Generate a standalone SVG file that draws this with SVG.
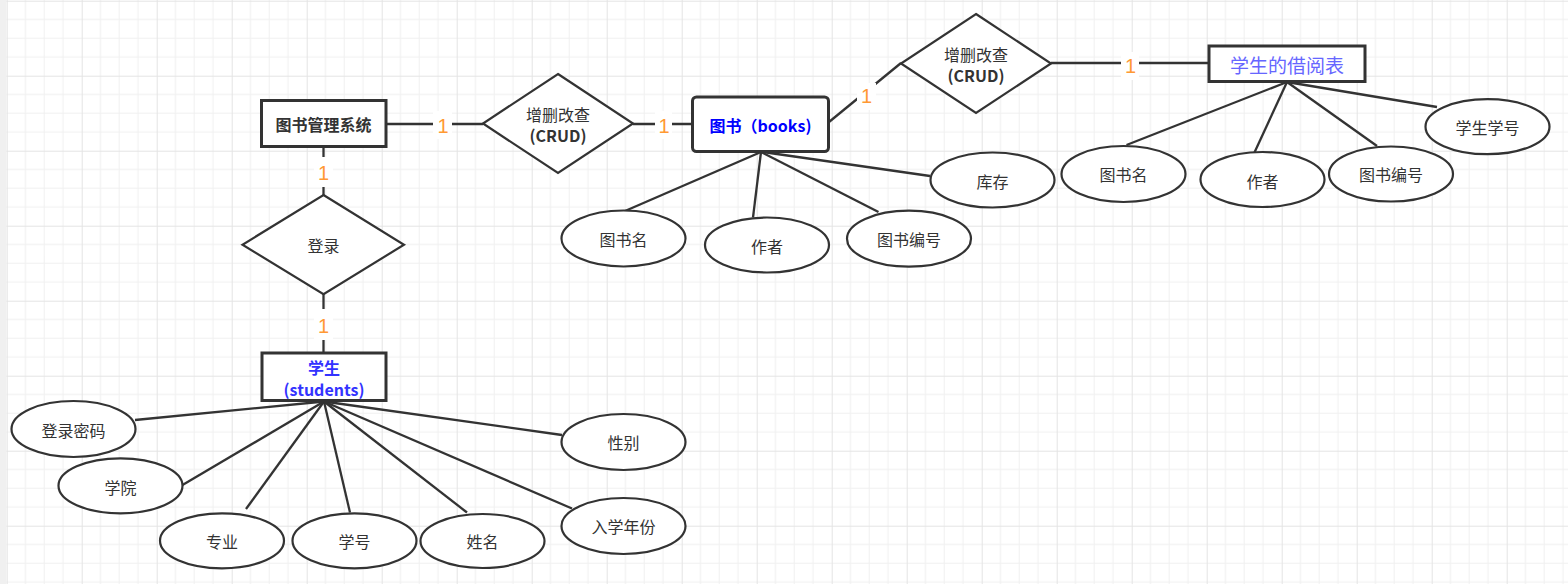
<svg xmlns="http://www.w3.org/2000/svg" width="1568" height="584" viewBox="0 0 1568 584">
<style>
.ln{stroke:#333;stroke-width:2.3;fill:none}
.box{fill:#fff;stroke:#333;stroke-width:3}
.dia{fill:#fff;stroke:#333;stroke-width:2.2}
.ell{fill:#fff;stroke:#333;stroke-width:2.2}
.t{font-family:"Noto Sans CJK SC","Liberation Sans",sans-serif;font-size:16px;fill:#333;text-anchor:middle;dominant-baseline:central}
.b{font-weight:bold}
.one{font-family:"Liberation Sans","Noto Sans CJK SC",sans-serif;font-size:20px;fill:#ff9933;text-anchor:middle;dominant-baseline:central}
.bg{fill:#fff}
</style>
<defs>
<pattern id="grid" patternUnits="userSpaceOnUse" x="6.7" y="0.7" width="75" height="75">
<rect width="75" height="75" fill="#fff"/>
<path d="M18.75 0V75M37.5 0V75M56.25 0V75M0 18.75H75M0 37.5H75M0 56.25H75" stroke="#f0f0f0" stroke-width="1"/>
<path d="M0.5 0V75M0 0.5H75" stroke="#e4e4e4" stroke-width="1"/>
</pattern>
</defs>
<rect width="1568" height="584" fill="url(#grid)"/>
<rect width="6.5" height="584" fill="#f0f0f0"/>

<g id="connectors">
<line class="ln" x1="386" y1="124" x2="483" y2="124"/>
<line class="ln" x1="633" y1="124" x2="693" y2="124"/>
<line class="ln" x1="829" y1="122" x2="901" y2="63"/>
<line class="ln" x1="1051" y1="63" x2="1209" y2="63"/>
<line class="ln" x1="323.5" y1="147" x2="323.5" y2="195"/>
<line class="ln" x1="323.5" y1="294" x2="323.5" y2="353"/>
<line class="ln" x1="761" y1="152" x2="625" y2="211"/>
<line class="ln" x1="761" y1="152" x2="753" y2="217.5"/>
<line class="ln" x1="761" y1="152" x2="878.5" y2="212"/>
<line class="ln" x1="763" y1="152" x2="930" y2="176"/>
<line class="ln" x1="1287" y1="82" x2="1126.5" y2="145"/>
<line class="ln" x1="1287" y1="82" x2="1254" y2="153.5"/>
<line class="ln" x1="1287" y1="82" x2="1377" y2="146"/>
<line class="ln" x1="1287" y1="82" x2="1437" y2="107"/>
<line class="ln" x1="324" y1="401.5" x2="135" y2="420"/>
<line class="ln" x1="324" y1="401.5" x2="182.5" y2="485"/>
<line class="ln" x1="324" y1="401.5" x2="246" y2="509"/>
<line class="ln" x1="324" y1="401.5" x2="350" y2="512.5"/>
<line class="ln" x1="324" y1="401.5" x2="467" y2="512.5"/>
<line class="ln" x1="324" y1="401.5" x2="562" y2="435"/>
<line class="ln" x1="324" y1="401.5" x2="572" y2="508.5"/>
<rect class="bg" x="433" y="111" width="19" height="28"/>
<text class="one" x="443" y="126">1</text>
<rect class="bg" x="655" y="111" width="17" height="28"/>
<text class="one" x="664" y="126">1</text>
<rect class="bg" x="857" y="83" width="19" height="27"/>
<text class="one" x="866.5" y="96">1</text>
<rect class="bg" x="1121" y="52" width="18" height="28"/>
<text class="one" x="1130.5" y="66">1</text>
<rect class="bg" x="314" y="157" width="19" height="30"/>
<text class="one" x="323.5" y="172.5">1</text>
<rect class="bg" x="314" y="309" width="19" height="31"/>
<text class="one" x="323.5" y="325.5">1</text>
</g>

<g id="system">
<rect class="box" x="261.5" y="100.5" width="124.5" height="46"/>
<text class="t b" x="323.5" y="124">图书管理系统</text>
</g>
<g id="crud1">
<polygon class="dia" points="558,74 633,123.5 558,173 483,123.5"/>
<text class="t" x="558" y="114">增删改查</text>
<text class="t b" x="558" y="135">(CRUD)</text>
</g>
<g id="books">
<rect class="box" x="692.5" y="97" width="136" height="54.5" rx="4"/>
<text class="t b" x="760.5" y="124.5" style="fill:#0000ff">图书（books)</text>
</g>
<g id="crud2">
<polygon class="dia" points="976,14 1051,63.5 976,113 901,63.5"/>
<text class="t" x="976" y="54">增删改查</text>
<text class="t b" x="976" y="75">(CRUD)</text>
</g>
<g id="borrow">
<rect class="box" x="1209" y="46" width="156" height="35.5"/>
<text class="t" x="1287" y="64" style="font-size:19px;fill:#6666ff">学生的借阅表</text>
</g>
<g id="login">
<polygon class="dia" points="323.5,195 404,244.7 323.5,294.3 242.5,244.7"/>
<text class="t" x="323.5" y="245">登录</text>
</g>
<g id="students">
<rect class="box" x="262" y="353" width="124" height="47.5"/>
<text class="t b" x="324" y="366.5" style="fill:#3333ff">学生</text>
<text class="t b" x="324" y="388.5" style="fill:#3333ff">(students)</text>
</g>

<g id="b-name"><ellipse class="ell" cx="623.5" cy="238.5" rx="62" ry="28"/><text class="t" x="623.5" y="239">图书名</text></g>
<g id="b-author"><ellipse class="ell" cx="767" cy="245" rx="62" ry="27.5"/><text class="t" x="767" y="246">作者</text></g>
<g id="b-id"><ellipse class="ell" cx="909" cy="238.7" rx="62" ry="28"/><text class="t" x="909" y="239">图书编号</text></g>
<g id="b-stock"><ellipse class="ell" cx="992.5" cy="180" rx="62" ry="27.5"/><text class="t" x="992.5" y="181">库存</text></g>

<g id="r-name"><ellipse class="ell" cx="1123.5" cy="174" rx="62" ry="28"/><text class="t" x="1123.5" y="174">图书名</text></g>
<g id="r-author"><ellipse class="ell" cx="1262.5" cy="179.5" rx="62" ry="27.5"/><text class="t" x="1262.5" y="181">作者</text></g>
<g id="r-id"><ellipse class="ell" cx="1391" cy="174" rx="62" ry="27.5"/><text class="t" x="1391" y="174">图书编号</text></g>
<g id="r-sid"><ellipse class="ell" cx="1487.5" cy="126.7" rx="62" ry="27.5"/><text class="t" x="1487.5" y="127">学生学号</text></g>

<g id="s-pwd"><ellipse class="ell" cx="73.5" cy="429" rx="62" ry="28"/><text class="t" x="73.5" y="430">登录密码</text></g>
<g id="s-college"><ellipse class="ell" cx="120.5" cy="485.8" rx="62" ry="27.5"/><text class="t" x="120.5" y="487">学院</text></g>
<g id="s-major"><ellipse class="ell" cx="222" cy="540.8" rx="62" ry="27.5"/><text class="t" x="222" y="541">专业</text></g>
<g id="s-no"><ellipse class="ell" cx="354.5" cy="540.8" rx="62" ry="27.5"/><text class="t" x="354.5" y="541">学号</text></g>
<g id="s-name"><ellipse class="ell" cx="482.5" cy="541" rx="62" ry="27"/><text class="t" x="482.5" y="541">姓名</text></g>
<g id="s-sex"><ellipse class="ell" cx="623.5" cy="442" rx="62" ry="28"/><text class="t" x="623.5" y="442">性别</text></g>
<g id="s-year"><ellipse class="ell" cx="623.5" cy="526" rx="62" ry="28"/><text class="t" x="623.5" y="526">入学年份</text></g>
</svg>
